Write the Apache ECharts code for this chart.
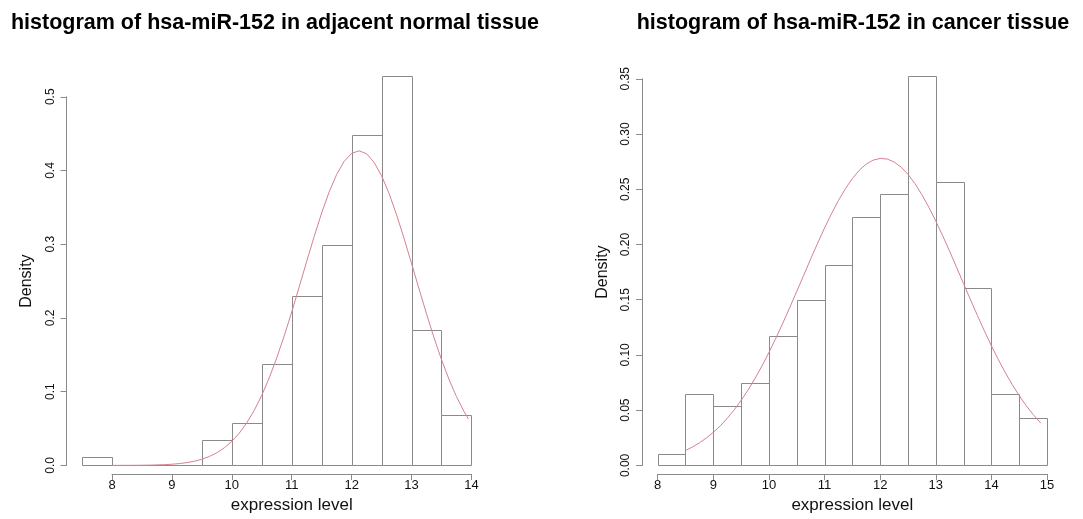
<!DOCTYPE html>
<html>
<head>
<meta charset="utf-8">
<script src="https://cdn.jsdelivr.net/npm/echarts@6/dist/echarts.min.js"></script>
<style>
html,body{margin:0;padding:0;background:#fff;}
#c{width:1083px;height:519px;}
</style>
</head>
<body>
<div id="c"></div>
<script>
// ---- data ----
const titles = ['histogram of hsa-miR-152 in adjacent normal tissue', 'histogram of hsa-miR-152 in cancer tissue'];
const xName = 'expression level';
const yName = 'Density';

// left panel: bin edges and densities
const normalBreaks = [7.5, 8, 8.5, 9, 9.5, 10, 10.5, 11, 11.5, 12, 12.5, 13, 13.5, 14];
const normalDensity = [0.0115, 0, 0, 0, 0.0345, 0.0575, 0.1379, 0.2299, 0.2989, 0.4483, 0.5287, 0.1839, 0.0690];
const normalCurveX = [8, 8.125, 8.25, 8.375, 8.5, 8.625, 8.75, 8.875, 9, 9.125, 9.25, 9.375, 9.5, 9.625, 9.75, 9.875,
  10, 10.125, 10.25, 10.375, 10.5, 10.625, 10.75, 10.875, 11, 11.125, 11.25, 11.375, 11.5, 11.625, 11.75, 11.875,
  12, 12.125, 12.25, 12.375, 12.5, 12.625, 12.75, 12.875, 13, 13.125, 13.25, 13.375, 13.5, 13.625, 13.75, 13.875, 13.95];
const normalCurveY = [0.00003, 0.00005, 0.00008, 0.00014, 0.00024, 0.00039, 0.00064, 0.00103, 0.0016, 0.0025, 0.0038, 0.0057, 0.0084, 0.0121, 0.0172, 0.0239,
  0.0326, 0.0438, 0.0578, 0.0748, 0.0951, 0.1188, 0.1459, 0.1758, 0.2082, 0.2422, 0.2768, 0.3106, 0.3425, 0.3709, 0.3946, 0.4123,
  0.4232, 0.4267, 0.4226, 0.4111, 0.3929, 0.3688, 0.3400, 0.3080, 0.2740, 0.2395, 0.2056, 0.1733, 0.1436, 0.1168, 0.0934, 0.0733, 0.0629];
const normalXTicks = [8, 14, 1];
const normalYTicks = [0, 0.5, 0.1];

// right panel
const cancerBreaks = [8, 8.5, 9, 9.5, 10, 10.5, 11, 11.5, 12, 12.5, 13, 13.5, 14, 14.5, 15];
const cancerDensity = [0.0107, 0.0642, 0.0535, 0.0749, 0.1176, 0.1497, 0.1818, 0.2246, 0.2460, 0.3529, 0.2567, 0.1604, 0.0642, 0.0428];
const cancerCurveX = [8.5, 8.625, 8.75, 8.875, 9, 9.125, 9.25, 9.375, 9.5, 9.625, 9.75, 9.875, 10, 10.125, 10.25, 10.375,
  10.5, 10.625, 10.75, 10.875, 11, 11.125, 11.25, 11.375, 11.5, 11.625, 11.75, 11.875, 12, 12.03, 12.125, 12.25, 12.375,
  12.5, 12.625, 12.75, 12.875, 13, 13.125, 13.25, 13.375, 13.5, 13.625, 13.75, 13.875, 14, 14.125, 14.25, 14.375,
  14.5, 14.625, 14.75, 14.89];
const cancerCurveY = [0.0135, 0.0167, 0.0204, 0.0248, 0.0299, 0.0358, 0.0426, 0.0502, 0.0588, 0.0683, 0.0787, 0.0900, 0.1022, 0.1152, 0.1288, 0.1430,
  0.1575, 0.1721, 0.1868, 0.2011, 0.2149, 0.2279, 0.2398, 0.2505, 0.2597, 0.2672, 0.2728, 0.2764, 0.2779, 0.2780, 0.2774, 0.2747, 0.2701,
  0.2635, 0.2551, 0.2451, 0.2337, 0.2212, 0.2078, 0.1937, 0.1792, 0.1645, 0.1499, 0.1356, 0.1216, 0.1083, 0.0958, 0.0840, 0.0731,
  0.0632, 0.0542, 0.0461, 0.0381];
const cancerXTicks = [8, 15, 1];
const cancerYTicks = [0, 0.35, 0.05];

// ---- build ----
const FONT = "'Liberation Sans', Arial, sans-serif";
const LINE = '#8a8a8a';
const CURVE = '#d4828f';
const TXT = '#111';

function bins(breaks, dens) {
  return dens.map((d, i) => [breaks[i], breaks[i + 1], d]);
}
function pts(xs, ys) { return xs.map((x, i) => [x, ys[i]]); }

// R-style 4% extension of ranges
function ext(lo, hi) { const r = (hi - lo) * 0.04; return [lo - r, hi + r]; }

const panels = [
  {breaks: normalBreaks, dens: normalDensity, cx: normalCurveX, cy: normalCurveY, xt: normalXTicks, yt: normalYTicks, left: 66.5, ydec: 1, tc: 270},
  {breaks: cancerBreaks, dens: cancerDensity, cx: cancerCurveX, cy: cancerCurveY, xt: cancerXTicks, yt: cancerYTicks, left: 642.1, ydec: 2, tc: 848}
];
const TOP = 60, H = 421, W = 420.5;

const grid = [], xAxis = [], yAxis = [], series = [], title = [];
panels.forEach((p, k) => {
  const xr = ext(p.breaks[0], p.breaks[p.breaks.length - 1]);
  const yr = ext(0, Math.max(...p.dens));
  const sx = W / (xr[1] - xr[0]);
  const sy = H / (yr[1] - yr[0]);
  const g0 = k * 3;
  // data grid
  grid.push({left: p.left, top: TOP, width: W, height: H});
  xAxis.push({gridIndex: g0, type: 'value', min: xr[0], max: xr[1], show: false});
  yAxis.push({gridIndex: g0, type: 'value', min: yr[0], max: yr[1], show: false});
  // x axis grid (spans tick range only)
  grid.push({left: p.left + (p.xt[0] - xr[0]) * sx, top: TOP, width: (p.xt[1] - p.xt[0]) * sx, height: H});
  xAxis.push({gridIndex: g0 + 1, type: 'value', min: p.xt[0], max: p.xt[1], interval: p.xt[2], position: 'bottom',
    axisLine: {show: true, lineStyle: {color: LINE, width: 1}},
    axisTick: {show: true, inside: false, length: 6, lineStyle: {color: LINE}},
    axisLabel: {fontFamily: FONT, fontSize: 13, color: TXT, margin: 5},
    splitLine: {show: false},
    name: xName, nameLocation: 'middle', nameGap: 21,
    nameTextStyle: {fontFamily: FONT, fontSize: 17, color: TXT}});
  yAxis.push({gridIndex: g0 + 1, type: 'value', min: 0, max: 1, show: false});
  // y axis grid
  const yTop = TOP + (yr[1] - p.yt[1]) * sy;
  grid.push({left: p.left, top: yTop, width: W, height: (p.yt[1] - p.yt[0]) * sy});
  xAxis.push({gridIndex: g0 + 2, type: 'value', min: 0, max: 1, show: false});
  yAxis.push({gridIndex: g0 + 2, type: 'value', min: p.yt[0], max: p.yt[1], interval: p.yt[2], position: 'left',
    axisLine: {show: true, lineStyle: {color: LINE, width: 1}},
    axisTick: {show: true, inside: false, length: 6, lineStyle: {color: LINE}},
    axisLabel: {fontFamily: FONT, fontSize: 12, color: TXT, margin: 10, rotate: 90,
      formatter: v => v.toFixed(p.ydec)},
    splitLine: {show: false},
    name: yName, nameLocation: 'middle', nameGap: 32,
    nameTextStyle: {fontFamily: FONT, fontSize: 16, color: TXT}});

  series.push({
    type: 'custom', xAxisIndex: g0, yAxisIndex: g0, data: bins(p.breaks, p.dens),
    renderItem: (params, api) => {
      const a = api.coord([api.value(0), api.value(2)]);
      const b = api.coord([api.value(1), 0]);
      return {type: 'rect', shape: {x: Math.round(a[0]) + 0.5, y: Math.round(a[1]) + 0.5, width: Math.round(b[0]) - Math.round(a[0]), height: Math.round(b[1]) - Math.round(a[1])},
        style: {fill: '#fff', stroke: LINE, lineWidth: 1}};
    },
    silent: true, z: 2
  });
  series.push({
    type: 'line', xAxisIndex: g0, yAxisIndex: g0, data: pts(p.cx, p.cy), smooth: false,
    showSymbol: false, lineStyle: {color: CURVE, width: 1}, silent: true, z: 3
  });
  title.push({text: titles[k], left: p.tc, top: 7, textAlign: 'center',
    textStyle: {fontFamily: FONT, fontSize: 21.5, fontWeight: 'bold', color: '#000'}});
});

const chart = echarts.init(document.getElementById('c'), null, {renderer: 'canvas'});
chart.setOption({animation: false, backgroundColor: '#fff', title, grid, xAxis, yAxis, series});
</script>
</body>
</html>
